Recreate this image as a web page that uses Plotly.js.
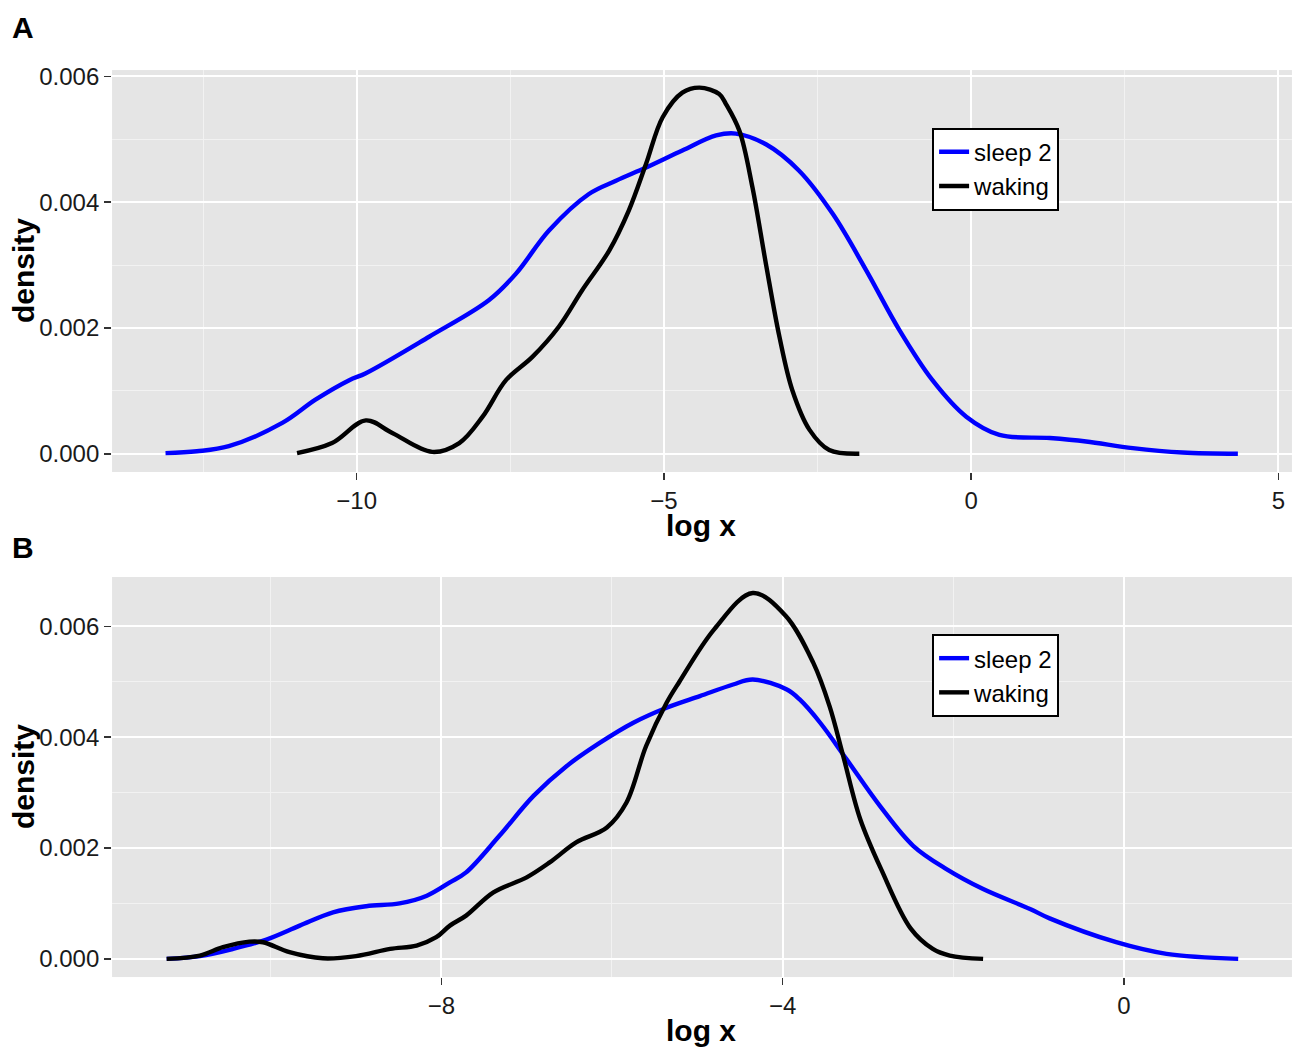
<!DOCTYPE html>
<html>
<head>
<meta charset="utf-8">
<script src="https://cdn.plot.ly/plotly-3.0.1.min.js"></script>
<style>
  html, body { margin: 0; padding: 0; background: #fff; }
  #chart { width: 1300px; height: 1055px; }
</style>
</head>
<body>
<div id="chart"></div>
<script>
// panel A: density of log x (density in units of 1e-3)
const seriesNames = ["sleep 2", "waking"];

const sleepAx = [-13.11, -12.6, -12.08, -11.21, -10.67, -10.12, -9.85, -8.82, -7.85, -7.41, -6.87, -6.22, -5.78, -5.29, -4.70, -4.15, -3.83, -3.34, -2.80, -2.25, -1.71, -1.17, -0.63, -0.08, 0.46, 1.28, 1.87, 2.63, 3.44, 4.34];
const sleepAy = [0.01, 0.04, 0.12, 0.49, 0.86, 1.17, 1.28, 1.86, 2.44, 2.86, 3.55, 4.13, 4.34, 4.55, 4.82, 5.06, 5.09, 4.92, 4.50, 3.81, 2.92, 1.97, 1.17, 0.59, 0.30, 0.25, 0.195, 0.09, 0.02, 0.0];

const wakeAx = [-10.97, -10.40, -9.85, -9.42, -8.77, -8.33, -7.95, -7.57, -7.14, -6.71, -6.33, -5.89, -5.57, -5.29, -5.02, -4.70, -4.42, -4.10, -3.99, -3.77, -3.56, -3.34, -3.12, -2.91, -2.63, -2.31, -1.82];
const wakeAy = [0.01, 0.17, 0.53, 0.33, 0.03, 0.17, 0.59, 1.17, 1.54, 2.02, 2.60, 3.23, 3.87, 4.61, 5.35, 5.74, 5.82, 5.72, 5.56, 5.13, 4.24, 3.02, 1.86, 1.01, 0.38, 0.06, 0.0];

// panel B
const sleepBx = [-11.22, -10.83, -10.44, -10.05, -9.66, -9.27, -8.88, -8.49, -8.17, -7.90, -7.71, -7.32, -6.92, -6.53, -6.14, -5.75, -5.36, -4.97, -4.58, -4.35, -3.95, -3.80, -3.56, -3.25, -2.86, -2.47, -2.08, -1.65, -1.10, -0.87, -0.09, 0.50, 1.34];
const sleepBy = [0.0, 0.05, 0.18, 0.35, 0.60, 0.84, 0.95, 1.00, 1.14, 1.38, 1.56, 2.22, 2.94, 3.48, 3.90, 4.26, 4.53, 4.74, 4.95, 5.04, 4.86, 4.68, 4.26, 3.60, 2.76, 2.04, 1.62, 1.26, 0.90, 0.73, 0.30, 0.09, 0.0];

const wakeBx = [-11.22, -10.83, -10.56, -10.25, -10.09, -9.78, -9.39, -9.00, -8.60, -8.29, -8.06, -7.90, -7.71, -7.39, -7.00, -6.73, -6.42, -6.06, -5.83, -5.60, -5.36, -5.21, -4.80, -4.35, -3.97, -3.64, -3.45, -3.29, -3.09, -2.84, -2.50, -2.24, -2.04, -1.65];
const wakeBy = [0.0, 0.06, 0.21, 0.31, 0.30, 0.12, 0.01, 0.05, 0.18, 0.24, 0.39, 0.60, 0.78, 1.20, 1.47, 1.74, 2.10, 2.37, 2.82, 3.84, 4.62, 5.00, 5.95, 6.60, 6.20, 5.34, 4.56, 3.66, 2.52, 1.60, 0.55, 0.18, 0.06, 0.0];

const toDensity = (arr) => arr.map((v) => v / 1000);

const lineColors = ["#0000FF", "#000000"];
const fontFamily = "'Liberation Sans', Arial, sans-serif";

function curve(x, y, i, xa, ya, legend) {
  return {
    x: x,
    y: toDensity(y),
    type: "scatter",
    mode: "lines",
    name: seriesNames[i],
    line: { color: lineColors[i], width: 4.4, shape: "spline", smoothing: 1 },
    xaxis: xa,
    yaxis: ya,
    legend: legend,
    hoverinfo: "skip",
  };
}

const data = [
  curve(sleepAx, sleepAy, 0, "x", "y", "legend"),
  curve(wakeAx, wakeAy, 1, "x", "y", "legend"),
  curve(sleepBx, sleepBy, 0, "x2", "y2", "legend2"),
  curve(wakeBx, wakeBy, 1, "x2", "y2", "legend2"),
];

function xAxis(range, dtick, anchor) {
  return {
    domain: [0.0862, 0.9938],
    range: range,
    dtick: dtick,
    tick0: 0,
    anchor: anchor,
    ticks: "outside",
    ticklen: 7,
    tickwidth: 1.5,
    tickcolor: "#333333",
    showline: false,
    zeroline: false,
    gridcolor: "#FFFFFF",
    gridwidth: 2,
    minor: { dtick: dtick / 2, showgrid: true, gridcolor: "#F2F2F2", gridwidth: 1 },
    tickfont: { size: 24, color: "#1a1a1a", family: fontFamily },
  };
}

function yAxis(range, domain, anchor) {
  return {
    domain: domain,
    range: range,
    dtick: 0.002,
    tick0: 0,
    tickformat: ".3f",
    anchor: anchor,
    ticks: "outside",
    ticklen: 7,
    tickwidth: 1.5,
    tickcolor: "#333333",
    showline: false,
    zeroline: false,
    gridcolor: "#FFFFFF",
    gridwidth: 2,
    minor: { dtick: 0.001, showgrid: true, gridcolor: "#F2F2F2", gridwidth: 1 },
    tickfont: { size: 24, color: "#1a1a1a", family: fontFamily },
  };
}

function legendBox(y) {
  return {
    x: 0.717,
    y: y,
    xanchor: "left",
    yanchor: "top",
    bgcolor: "#FFFFFF",
    bordercolor: "#000000",
    borderwidth: 2,
    itemwidth: 30,
    tracegroupgap: 0,
    font: { size: 24, color: "#000000", family: fontFamily },
  };
}

function label(text, x, y, size, angle) {
  return {
    text: "<b>" + text + "</b>",
    x: x,
    y: y,
    xref: "paper",
    yref: "paper",
    xanchor: "center",
    yanchor: "middle",
    showarrow: false,
    textangle: angle || 0,
    font: { size: size, color: "#000000", family: fontFamily },
  };
}

const layout = {
  width: 1300,
  height: 1055,
  margin: { l: 0, r: 0, t: 0, b: 0 },
  paper_bgcolor: "#FFFFFF",
  plot_bgcolor: "#E5E5E5",
  showlegend: true,
  xaxis: xAxis([-13.98, 5.22], 5, "y"),
  yaxis: yAxis([-0.00029, 0.0061], [0.5526, 0.9336], "x"),
  xaxis2: xAxis([-11.86, 1.97], 4, "y2"),
  yaxis2: yAxis([-0.000328, 0.00689], [0.0739, 0.4531], "x2"),
  legend: legendBox(0.879),
  legend2: legendBox(0.399),
  annotations: [
    label("A", 0.0175, 0.9744, 30),
    label("B", 0.0175, 0.4806, 30),
    label("log x", 0.539, 0.5015, 30),
    label("log x", 0.539, 0.0235, 30),
    label("density", 0.0177, 0.7431, 30, -90),
    label("density", 0.0177, 0.2635, 30, -90),
  ],
};

Plotly.newPlot("chart", data, layout, { displayModeBar: false, staticPlot: true });
</script>
</body>
</html>
